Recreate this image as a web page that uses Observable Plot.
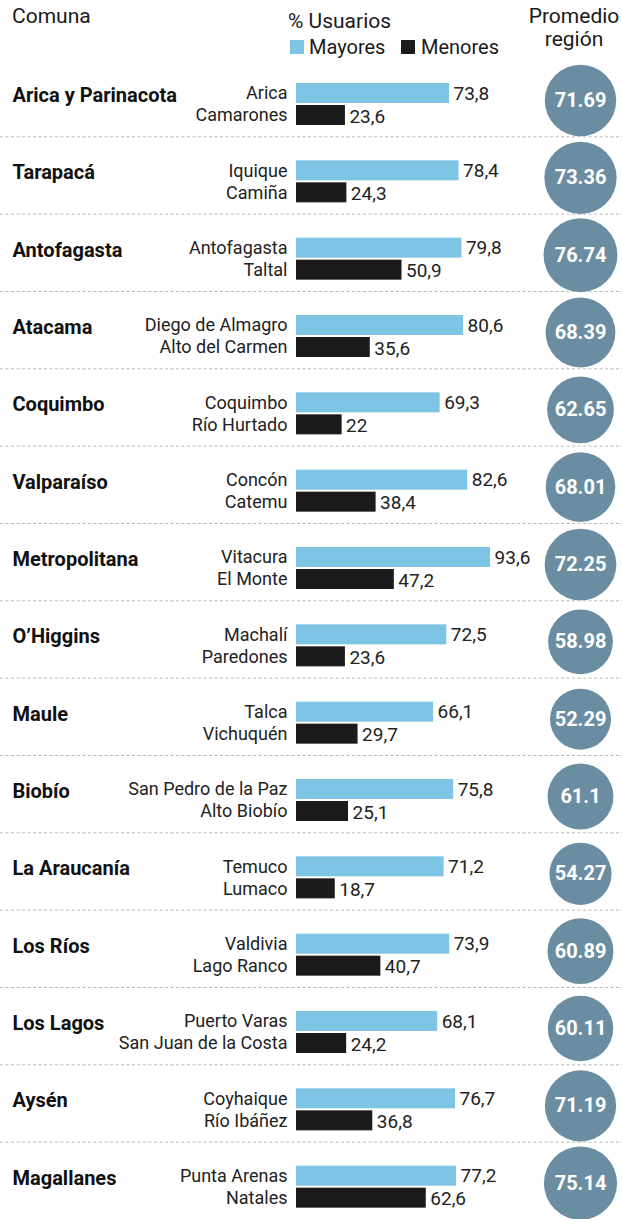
<!DOCTYPE html>
<html>
<head>
<meta charset="utf-8">
<script src="https://cdn.jsdelivr.net/npm/d3@7"></script>
<script src="https://cdn.jsdelivr.net/npm/@observablehq/plot@0.6"></script>
<style>
  html, body { margin: 0; padding: 0; background: #fff; }
  body { width: 622px; font-family: Roboto, "Noto Sans", sans-serif; color: #1a1a1a; }
  #header { position: relative; width: 622px; height: 59px; }
  #header span { position: absolute; white-space: nowrap; }
  .sw { display: inline-block; width: 14px; height: 14px; position: absolute; }
</style>
</head>
<body>
<div id="header">
  <span style="left:12px; top:4px; font-size:21px;">Comuna</span>
  <span style="left:288px; top:9px; font-size:21px;">% Usuarios</span>
  <i class="sw" style="left:290px; top:40px; background:#7ec4e4;"></i>
  <span style="left:309px; top:35px; font-size:20px;">Mayores</span>
  <i class="sw" style="left:401px; top:40px; background:#1b1b1b;"></i>
  <span style="left:421px; top:35px; font-size:20px;">Menores</span>
  <span style="left:522px; width:104px; top:5px; font-size:21px; text-align:center; line-height:23px;">Promedio<br>región</span>
</div>
<div id="chart"></div>
<script>
const regions = ["Arica y Parinacota","Tarapacá","Antofagasta","Atacama","Coquimbo","Valparaíso","Metropolitana","O’Higgins","Maule","Biobío","La Araucanía","Los Ríos","Los Lagos","Aysén","Magallanes"];
const comunaMayores = ["Arica","Iquique","Antofagasta","Diego de Almagro","Coquimbo","Concón","Vitacura","Machalí","Talca","San Pedro de la Paz","Temuco","Valdivia","Puerto Varas","Coyhaique","Punta Arenas"];
const valoresMayores = [73.8,78.4,79.8,80.6,69.3,82.6,93.6,72.5,66.1,75.8,71.2,73.9,68.1,76.7,77.2];
const comunaMenores = ["Camarones","Camiña","Taltal","Alto del Carmen","Río Hurtado","Catemu","El Monte","Paredones","Vichuquén","Alto Biobío","Lumaco","Lago Ranco","San Juan de la Costa","Río Ibáñez","Natales"];
const valoresMenores = [23.6,24.3,50.9,35.6,22,38.4,47.2,23.6,29.7,25.1,18.7,40.7,24.2,36.8,62.6];
const promedioRegion = [71.69,73.36,76.74,68.39,62.65,68.01,72.25,58.98,52.29,61.1,54.27,60.89,60.11,71.19,75.14];

const data = regions.map((region, i) => ({
  region,
  comunaMayor: comunaMayores[i], mayores: valoresMayores[i],
  comunaMenor: comunaMenores[i], menores: valoresMenores[i],
  promedio: promedioRegion[i]
}));

const W = 622, H = 1160;
const bw = H / regions.length;
const fmt = v => String(v).replace(".", ",");

const chart = Plot.plot({
  width: W, height: H, margin: 0,
  x: {domain: [0, 100], range: [296, 503.3], axis: null},
  y: {type: "band", domain: regions, range: [0, H], padding: 0, round: false, axis: null},
  r: {type: "sqrt", domain: [0, 100], range: [0, 42.2]},
  style: {fontFamily: "Roboto, 'Noto Sans', sans-serif", fontSize: "18px", color: "#1a1a1a", background: "#fff"},
  marks: [
    Plot.ruleY(regions.slice(0, -1), {y: d => d, dy: bw / 2, stroke: "#b8b8b8", strokeDasharray: "3,2.5", strokeWidth: 1}),
    Plot.barX(data, {x: "mayores", y: "region", fill: "#7ec4e4", insetTop: 24, insetBottom: bw - 44}),
    Plot.barX(data, {x: "menores", y: "region", fill: "#1b1b1b", insetTop: 46, insetBottom: bw - 66}),
    Plot.text(data, {x: d => 0, y: "region", text: "comunaMayor", textAnchor: "end", dx: -9, dy: 34 - bw / 2, fill: "#222", fontSize: 18}),
    Plot.text(data, {x: d => 0, y: "region", text: "comunaMenor", textAnchor: "end", dx: -9, dy: 56 - bw / 2, fill: "#222", fontSize: 18}),
    Plot.text(data, {x: "mayores", y: "region", text: d => fmt(d.mayores), textAnchor: "start", dx: 4, dy: 34 - bw / 2, fill: "#222", fontSize: 19}),
    Plot.text(data, {x: "menores", y: "region", text: d => fmt(d.menores), textAnchor: "start", dx: 4, dy: 57 - bw / 2, fill: "#222", fontSize: 19}),
    Plot.text(data, {y: "region", text: "region", frameAnchor: "left", textAnchor: "start", dx: 12, dy: 36 - bw / 2, fontWeight: "bold", fill: "#111", fontSize: 20}),
    Plot.dot(data, {y: "region", r: "promedio", fill: "#6b8da2", frameAnchor: "right", dx: -42, dy: 41 - bw / 2}),
    Plot.text(data, {y: "region", text: d => String(d.promedio), frameAnchor: "right", textAnchor: "middle", dx: -42, dy: 41 - bw / 2, fill: "#fff", fontWeight: "bold", fontSize: 20})
  ]
});
document.getElementById("chart").appendChild(chart);
</script>
</body>
</html>
